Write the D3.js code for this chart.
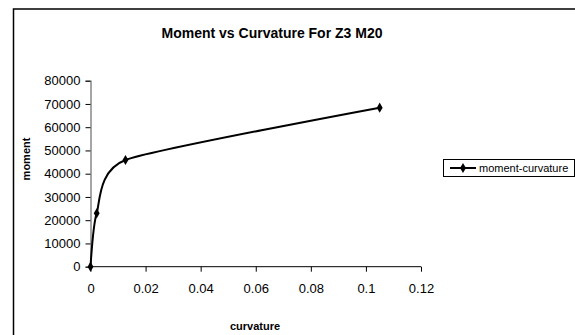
<!DOCTYPE html>
<html>
<head>
<meta charset="utf-8">
<script src="https://cdn.jsdelivr.net/npm/d3@7"></script>
<style>
  body { margin: 0; background: #fff; }
  svg { display: block; font-family: "Liberation Sans", Arial, sans-serif; }
</style>
</head>
<body>
<div id="chart"></div>
<script>
'use strict'

// data
const curvature = [0, 0.00225, 0.0127, 0.105]
const moment = [0, 22970, 45900, 68400]
const xTicks = [0, 0.02, 0.04, 0.06, 0.08, 0.1, 0.12]
const yTicks = [0, 10000, 20000, 30000, 40000, 50000, 60000, 70000, 80000]
const seriesName = "moment-curvature"

const width = 575, height = 335
const plot = {left: 90.5, right: 421, top: 80.7, bottom: 266.7}

let svg = d3.select("#chart").append("svg").attr("width", width).attr("height", height)

// outer frame (right / bottom run off the picture)
svg.append("rect")
  .attr("x", 13.5).attr("y", 9)
  .attr("width", 600).attr("height", 400)
  .attr("fill", "#fff").attr("stroke", "#000").attr("stroke-width", 1.5)

svg.append("text")
  .attr("x", 272).attr("y", 38)
  .attr("text-anchor", "middle")
  .attr("font-size", 14).attr("font-weight", "bold")
  .text("Moment vs Curvature For Z3 M20")

let xScale = d3.scaleLinear().domain([0, 0.12]).range([plot.left, plot.right])
let yScale = d3.scaleLinear().domain([0, 80000]).range([plot.bottom, plot.top])

// y axis
let yAxis = svg.append("g")
  .attr("transform", "translate(" + plot.left + ",0)")
  .call(d3.axisLeft(yScale).tickValues(yTicks).tickSize(5).tickPadding(5).tickFormat(d3.format("d")))
yAxis.select(".domain").attr("stroke", "#888").attr("stroke-width", 1.5)
yAxis.selectAll(".tick line").attr("stroke", "#000")
yAxis.selectAll("text").attr("font-size", 13).attr("font-family", "Liberation Sans, Arial, sans-serif").attr("fill", "#000")

// x axis
let xAxis = svg.append("g")
  .attr("transform", "translate(0," + plot.bottom + ")")
  .call(d3.axisBottom(xScale).tickValues(xTicks).tickSize(5).tickPadding(12).tickFormat(d => d3.format("~g")(d)))
xAxis.select(".domain").attr("stroke", "#000").attr("d", "M" + plot.left + ",0H" + plot.right)
xAxis.selectAll(".tick line").attr("stroke", "#000")
xAxis.selectAll("text").attr("font-size", 13).attr("font-family", "Liberation Sans, Arial, sans-serif").attr("fill", "#000")

// axis titles
svg.append("text")
  .attr("x", 255).attr("y", 330)
  .attr("text-anchor", "middle")
  .attr("font-size", 11).attr("font-weight", "bold")
  .text("curvature")

svg.append("text")
  .attr("transform", "translate(30,159) rotate(-90)")
  .attr("text-anchor", "middle")
  .attr("font-size", 11).attr("font-weight", "bold")
  .text("moment")

// series
let pts = curvature.map((c, i) => [c, moment[i]])
let line = d3.line()
  .x(d => xScale(d[0]))
  .y(d => yScale(d[1]))
  .curve(d3.curveCardinal.tension(0.42))

svg.append("path")
  .datum(pts)
  .attr("d", line)
  .attr("fill", "none").attr("stroke", "#000").attr("stroke-width", 2)

let diamond = d3.symbol().type(d3.symbolDiamond).size(30)
svg.selectAll(".pt")
  .data(pts)
  .enter()
  .append("path")
  .attr("class", "pt")
  .attr("transform", d => "translate(" + xScale(d[0]) + "," + yScale(d[1]) + ")")
  .attr("d", diamond)
  .attr("fill", "#000")

// legend
let lg = svg.append("g")
lg.append("rect")
  .attr("x", 443.5).attr("y", 159.5).attr("width", 131).attr("height", 17)
  .attr("fill", "#fff").attr("stroke", "#000")
lg.append("line")
  .attr("x1", 450).attr("x2", 476).attr("y1", 168).attr("y2", 168)
  .attr("stroke", "#000").attr("stroke-width", 2)
lg.append("path")
  .attr("transform", "translate(463,168)")
  .attr("d", diamond)
  .attr("fill", "#000")
lg.append("text")
  .attr("x", 479).attr("y", 172)
  .attr("font-size", 11)
  .text(seriesName)
</script>
</body>
</html>
